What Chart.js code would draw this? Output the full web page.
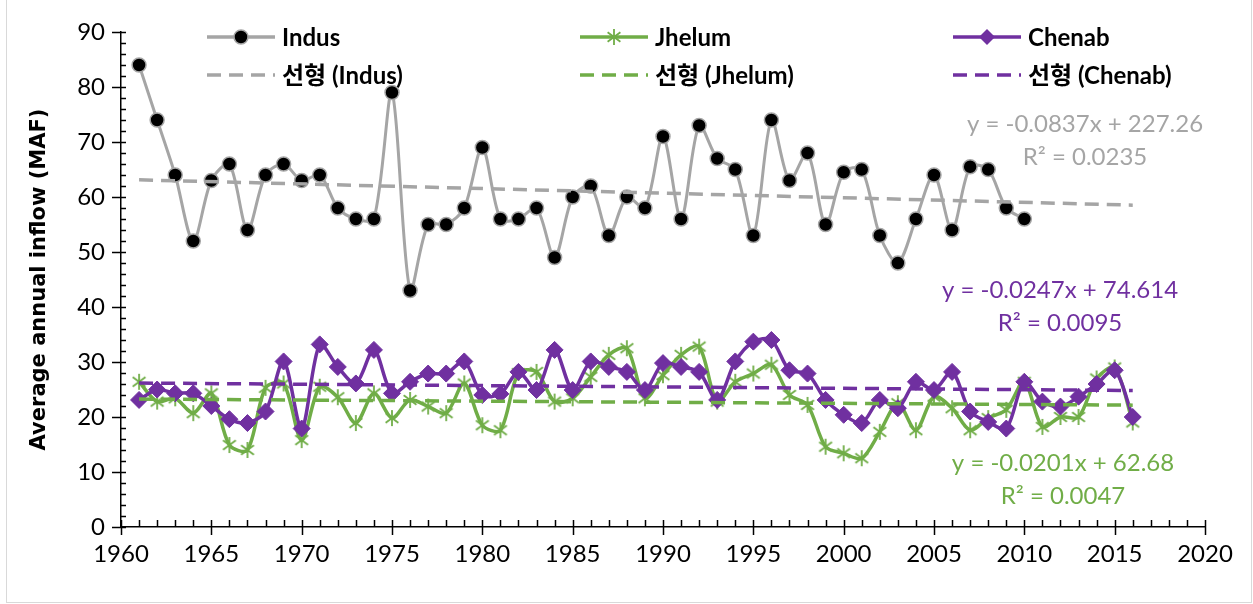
<!DOCTYPE html>
<html>
<head>
<meta charset="utf-8">
<script src="https://cdn.jsdelivr.net/npm/chart.js@4.4.0/dist/chart.umd.min.js"></script>
<style>
  body { margin: 0; background: #fff; }
  #wrap { position: relative; width: 1253px; height: 604px; }
  #frame { position: absolute; left: 6px; top: -1px; width: 1246px; height: 604px; border: 1px solid #D9D9D9; box-sizing: border-box; }
  canvas { position: absolute; left: 0; top: 0; }
</style>
</head>
<body>
<div id="wrap">
  <div id="frame"></div>
  <canvas id="flowChart" width="1253" height="604"></canvas>
</div>
<script>
// years on the x axis
const years = [1961, 1962, 1963, 1964, 1965, 1966, 1967, 1968, 1969, 1970,
  1971, 1972, 1973, 1974, 1975, 1976, 1977, 1978, 1979, 1980,
  1981, 1982, 1983, 1984, 1985, 1986, 1987, 1988, 1989, 1990,
  1991, 1992, 1993, 1994, 1995, 1996, 1997, 1998, 1999, 2000,
  2001, 2002, 2003, 2004, 2005, 2006, 2007, 2008, 2009, 2010,
  2011, 2012, 2013, 2014, 2015, 2016];

// average annual inflow (MAF)
const indus = [84, 74, 64, 52, 63, 66, 54, 64, 66, 63,
  64, 58, 56, 56, 79, 43, 55, 55, 58, 69,
  56, 56, 58, 49, 60, 62, 53, 60, 58, 71,
  56, 73, 67, 65, 53, 74, 63, 68, 55, 64.5,
  65, 53, 48, 56, 64, 54, 65.5, 65, 58, 56];

const jhelum = [26.4, 22.8, 23.4, 20.7, 24.3, 14.9, 14, 25.3, 26.1, 15.8,
  25.5, 23.6, 18.9, 24.3, 19.8, 23.1, 21.9, 20.7, 26.1, 18.5,
  17.6, 28, 28.2, 22.8, 23.4, 27.3, 31.3, 32.5, 23.4, 27.6,
  31.3, 32.8, 22.8, 26.4, 27.9, 29.5, 24, 22.2, 14.6, 13.4,
  12.5, 17.3, 22.5, 17.6, 23.7, 21.6, 17.6, 19.8, 21.3, 26.4,
  18.2, 20, 20, 27, 29, 19];

const chenab = [23.1, 25, 24.3, 24.3, 22, 19.6, 18.9, 21, 30.1, 17.9,
  33.2, 29.1, 26.1, 32.2, 24.3, 26.4, 27.9, 27.9, 30.1, 24,
  24.2, 28.2, 24.9, 32.2, 24.9, 30.1, 29.1, 28.2, 24.9, 29.8,
  29.1, 28.2, 23.1, 30.1, 33.7, 34, 28.5, 27.9, 23.1, 20.4,
  18.9, 23.1, 21.6, 26.4, 24.9, 28.2, 21, 19.1, 17.9, 26.4,
  22.8, 21.9, 23.7, 26, 28.5, 20];

// linear trend lines (Indus, Jhelum, Chenab)
const trendNames = ['Indus', 'Jhelum', 'Chenab'];
const trendSlope = [-0.0837, -0.0201, -0.0247];
const trendIntercept = [227.26, 62.68, 74.614];
const trendR2 = ['0.0235', '0.0047', '0.0095'];
const trendYears = [1961, 2016];

const GRAY = '#A5A5A5';
const GREEN = '#70AD47';
const PURPLE = '#7030A0';
const colors = [GRAY, GREEN, PURPLE];

const toPoints = (vals) => vals.map((v, i) => ({ x: years[i], y: v }));
const trendPoints = (k) => trendYears.map(yr => ({ x: yr, y: trendSlope[k] * yr + trendIntercept[k] }));

// asterisk marker like the excel one
function makeStar(color, r) {
  const c = document.createElement('canvas');
  const s = r * 2 + 4;
  c.width = s; c.height = s;
  const g = c.getContext('2d');
  const m = s / 2;
  g.strokeStyle = color;
  g.lineWidth = 1.8;
  g.beginPath();
  g.moveTo(m, m - r); g.lineTo(m, m + r);
  g.moveTo(m - r * 0.8, m - r * 0.6); g.lineTo(m + r * 0.8, m + r * 0.6);
  g.moveTo(m - r * 0.8, m + r * 0.6); g.lineTo(m + r * 0.8, m - r * 0.6);
  g.stroke();
  return c;
}
const starImg = makeStar(GREEN, 8);

const DASH = [14, 8];

// legend + equations + tick marks
const extras = {
  id: 'extras',
  afterDraw(chart) {
    const { ctx, chartArea: a, scales: { x, y } } = chart;
    ctx.save();

    // tick marks
    ctx.strokeStyle = '#000';
    ctx.lineWidth = 1.5;
    ctx.beginPath();
    for (let v = 0; v <= 90; v += 2) {
      const py = Math.round(y.getPixelForValue(v)) + 0.5;
      ctx.moveTo(v % 10 === 0 ? a.left - 9 : a.left, py);
      ctx.lineTo(a.left + 5, py);
    }
    for (let yr = 1960; yr <= 2020; yr++) {
      const px = Math.round(x.getPixelForValue(yr)) + 0.5;
      ctx.moveTo(px, a.bottom - 7);
      ctx.lineTo(px, yr % 5 === 0 ? a.bottom + 8 : a.bottom);
    }
    ctx.stroke();

    // legend, 3 columns x 2 rows
    const colX = [207, 580, 953];
    const rowY = [37, 75];
    ctx.textBaseline = 'middle';
    ctx.textAlign = 'left';
    for (let k = 0; k < 3; k++) {
      const x0 = colX[k], x1 = x0 + 68, xm = (x0 + x1) / 2;
      // series row
      ctx.setLineDash([]);
      ctx.strokeStyle = colors[k];
      ctx.lineWidth = 3.5;
      ctx.beginPath(); ctx.moveTo(x0, rowY[0]); ctx.lineTo(x1, rowY[0]); ctx.stroke();
      if (k === 0) {
        ctx.fillStyle = '#000'; ctx.strokeStyle = GRAY; ctx.lineWidth = 1.5;
        ctx.beginPath(); ctx.arc(xm, rowY[0], 7, 0, Math.PI * 2); ctx.fill(); ctx.stroke();
      } else if (k === 1) {
        ctx.drawImage(starImg, xm - starImg.width / 2, rowY[0] - starImg.height / 2);
      } else {
        ctx.fillStyle = PURPLE;
        ctx.beginPath();
        ctx.moveTo(xm, rowY[0] - 8); ctx.lineTo(xm + 8, rowY[0]);
        ctx.lineTo(xm, rowY[0] + 8); ctx.lineTo(xm - 8, rowY[0]);
        ctx.closePath(); ctx.fill();
      }
      ctx.fillStyle = '#000';
      ctx.font = 'bold 24px Lato, "Noto Sans CJK KR"';
      ctx.fillText(trendNames[k], x1 + 7, rowY[0] + 1);
      // trend row
      ctx.setLineDash(DASH);
      ctx.strokeStyle = colors[k];
      ctx.lineWidth = 3.5;
      ctx.beginPath(); ctx.moveTo(x0, rowY[1]); ctx.lineTo(x1, rowY[1]); ctx.stroke();
      ctx.setLineDash([]);
      ctx.fillText('선형 (' + trendNames[k] + ')', x1 + 7, rowY[1] + 1);
    }

    // trend equations
    const eqPos = [[1085, 124], [1063, 463], [1060, 290]];
    ctx.font = '24px Lato';
    ctx.textAlign = 'center';
    for (let k = 0; k < 3; k++) {
      const sign = trendIntercept[k] >= 0 ? '+' : '-';
      ctx.fillStyle = colors[k];
      ctx.fillText('y = ' + trendSlope[k] + 'x ' + sign + ' ' + Math.abs(trendIntercept[k]), eqPos[k][0], eqPos[k][1]);
      ctx.fillText('R² = ' + trendR2[k], eqPos[k][0], eqPos[k][1] + 33);
    }
    ctx.restore();
  }
};

const lineDefaults = { showLine: true, borderWidth: 3.5, tension: 0.3, fill: false };

new Chart(document.getElementById('flowChart'), {
  type: 'scatter',
  data: {
    datasets: [
      { ...lineDefaults, label: 'Indus', data: toPoints(indus), borderColor: GRAY, borderWidth: 3,
        pointStyle: 'circle', pointRadius: 7, pointBackgroundColor: '#000', pointBorderColor: GRAY, pointBorderWidth: 1.5, order: 3 },
      { ...lineDefaults, label: 'Jhelum', data: toPoints(jhelum), borderColor: GREEN,
        pointStyle: starImg, pointRadius: 8, order: 2 },
      { ...lineDefaults, label: 'Chenab', data: toPoints(chenab), borderColor: PURPLE,
        pointStyle: 'rectRot', pointRadius: 8.5, pointBackgroundColor: PURPLE, pointBorderColor: PURPLE, pointBorderWidth: 1, order: 1 },
      { label: '선형 (Indus)', data: trendPoints(0), showLine: true, borderColor: GRAY, borderWidth: 3.5, borderDash: DASH, pointRadius: 0, order: 0 },
      { label: '선형 (Jhelum)', data: trendPoints(1), showLine: true, borderColor: GREEN, borderWidth: 3.5, borderDash: DASH, pointRadius: 0, order: 0 },
      { label: '선형 (Chenab)', data: trendPoints(2), showLine: true, borderColor: PURPLE, borderWidth: 3.5, borderDash: DASH, pointRadius: 0, order: 0 }
    ]
  },
  options: {
    responsive: false,
    animation: false,
    layout: { padding: { left: 0, right: 48, top: 32, bottom: 0 } },
    plugins: { legend: { display: false }, tooltip: { enabled: false } },
    scales: {
      x: {
        type: 'linear', min: 1960, max: 2020,
        grid: { display: false, drawTicks: false },
        border: { display: true, color: '#000', width: 1.5 },
        ticks: { stepSize: 5, padding: 13, color: '#000', font: { family: 'Lato', size: 24 },
          callback: (v) => String(v) },
        afterFit: (s) => { s.height = 77; }
      },
      y: {
        min: 0, max: 90,
        grid: { display: false, drawTicks: false },
        border: { display: true, color: '#000', width: 1.5 },
        ticks: { stepSize: 10, padding: 16, color: '#000', font: { family: 'Lato', size: 24 } },
        title: { display: true, text: 'Average annual inflow (MAF)', color: '#000',
          font: { family: 'DejaVu Sans', size: 21, weight: 'bold' }, padding: { top: 27, bottom: 0 } },
        afterFit: (s) => { s.width = 121; }
      }
    }
  },
  plugins: [extras]
});
</script>
</body>
</html>
